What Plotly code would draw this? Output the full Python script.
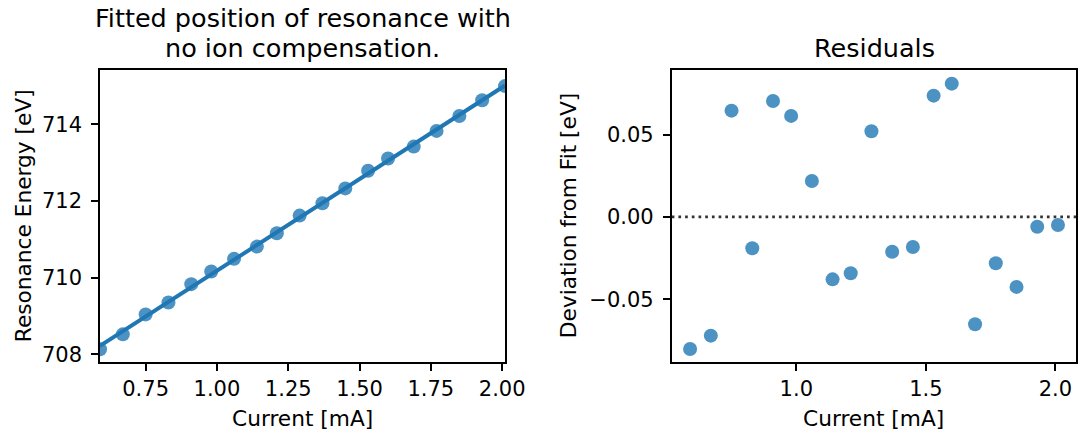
import numpy as np
import plotly.graph_objects as go

# ---- data ----
current_mA = [0.59, 0.67, 0.75, 0.83, 0.91, 0.98, 1.06, 1.14, 1.21, 1.29,
              1.37, 1.45, 1.53, 1.60, 1.69, 1.77, 1.85, 1.93, 2.01]
resonance_eV = [708.13, 708.52, 709.04, 709.35, 709.83, 710.16, 710.49, 710.81,
                711.16, 711.62, 711.94, 712.33, 712.79, 713.11, 713.42, 713.83,
                714.22, 714.63, 715.00]
residual_eV = [-0.0802, -0.0721, 0.0646, -0.0190, 0.0705, 0.0614, 0.0219,
               -0.0379, -0.0342, 0.0521, -0.0211, -0.0182, 0.0737, 0.0810,
               -0.0652, -0.0281, -0.0425, -0.0059, -0.0049]

left_x_ticks = [0.75, 1.00, 1.25, 1.50, 1.75, 2.00]
left_x_labels = ["0.75", "1.00", "1.25", "1.50", "1.75", "2.00"]
left_y_ticks = [708, 710, 712, 714]
left_y_labels = ["708", "710", "712", "714"]
right_x_ticks = [1.0, 1.5, 2.0]
right_x_labels = ["1.0", "1.5", "2.0"]
right_y_ticks = [-0.05, 0.0, 0.05]
right_y_labels = ["\u22120.05", "0.00", "0.05"]

title_left_1 = "Fitted position of resonance with"
title_left_2 = "no ion compensation."
title_right = "Residuals"
xlabel = "Current [mA]"
ylabel_left = "Resonance Energy [eV]"
ylabel_right = "Deviation from Fit [eV]"

# ---- styling ----
W, H = 1079, 435
BLUE = "#1f77b4"
FONT = "DejaVu Sans"
TICK_FS = 21
LABEL_FS = 21.7
TITLE_FS = 25.5

x = np.array(current_mA)
y = np.array(resonance_eV)
slope, intercept = np.polyfit(x, y, 1)
fit_x = np.array([x.min(), x.max()])
fit_y = slope * fit_x + intercept

def px_x(p):
    return p / W

def px_y(p):
    return 1 - p / H

fig = go.Figure()
fig.add_trace(go.Scatter(x=fit_x, y=fit_y, mode="lines",
                         line=dict(color=BLUE, width=4),
                         xaxis="x", yaxis="y", showlegend=False))
fig.add_trace(go.Scatter(x=current_mA, y=resonance_eV, mode="markers",
                         marker=dict(color=BLUE, size=14, opacity=0.8, line=dict(width=0)),
                         xaxis="x", yaxis="y", showlegend=False))
fig.add_trace(go.Scatter(x=current_mA, y=residual_eV, mode="markers",
                         marker=dict(color=BLUE, size=14, opacity=0.8, line=dict(width=0)),
                         xaxis="x2", yaxis="y2", showlegend=False))

fig.add_shape(type="line", xref="x2 domain", yref="y2", x0=0, x1=1, y0=0, y1=0,
              line=dict(color="#333333", width=2.7, dash="2.7px,4px"), layer="below")

axis_common = dict(showgrid=False, zeroline=False, showline=True, mirror=True,
                   linecolor="black", linewidth=1.6, ticks="outside", ticklen=7,
                   tickwidth=1.6, tickcolor="black", automargin=False,
                   tickfont=dict(family=FONT, size=TICK_FS, color="black"))

y_dom = [px_y(362.3), px_y(70)]
fig.update_layout(
    template="none",
    width=W, height=H,
    margin=dict(l=0, r=0, t=0, b=0, pad=0, autoexpand=False),
    paper_bgcolor="white", plot_bgcolor="white",
    xaxis=dict(domain=[px_x(100), px_x(505)], range=[0.59, 2.01],
               tickmode="array", tickvals=left_x_ticks, ticktext=left_x_labels,
               anchor="y", **axis_common),
    yaxis=dict(domain=y_dom, range=[707.79, 715.42],
               tickmode="array", tickvals=left_y_ticks, ticktext=left_y_labels,
               anchor="x", ticklabelstandoff=5, **axis_common),
    xaxis2=dict(domain=[px_x(671.7), px_x(1076)], range=[0.519, 2.0796],
                tickmode="array", tickvals=right_x_ticks, ticktext=right_x_labels,
                anchor="y2", **axis_common),
    yaxis2=dict(domain=y_dom, range=[-0.0883, 0.0893],
                tickmode="array", tickvals=right_y_ticks, ticktext=right_y_labels,
                anchor="x2", ticklabelstandoff=5, **axis_common),
)

def ann(text, xp, yp, size, angle=0):
    fig.add_annotation(text=text, x=px_x(xp), y=px_y(yp), xref="paper", yref="paper",
                       showarrow=False, xanchor="center", yanchor="middle",
                       textangle=angle, font=dict(family=FONT, size=size, color="black"))

ann(title_left_1, 302.5, 17.8, TITLE_FS)
ann(title_left_2, 302.5, 47.8, TITLE_FS)
ann(title_right, 874, 48, TITLE_FS)
ann(xlabel, 302.5, 418.5, LABEL_FS)
ann(xlabel, 873.9, 418.5, LABEL_FS)
ann(ylabel_left, 23, 216.2, LABEL_FS, -90)
ann(ylabel_right, 568, 216.2, LABEL_FS, -90)

fig.write_html("out.html")
